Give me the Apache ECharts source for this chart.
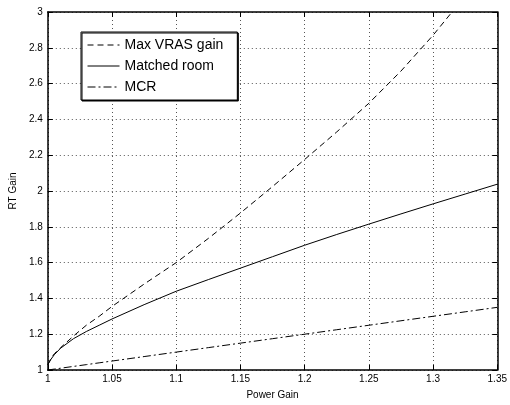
<!DOCTYPE html>
<html>
<head>
<meta charset="utf-8">
<script src="https://cdn.jsdelivr.net/npm/echarts@6/dist/echarts.min.js"></script>
<style>html,body{margin:0;padding:0;background:#fff}#c{width:510px;height:405px}</style>
</head>
<body>
<div id="c"></div>
<script>
var xValues = [1.0, 1.0025, 1.005, 1.01, 1.02, 1.03, 1.04, 1.05, 1.075, 1.1, 1.125, 1.15, 1.175, 1.2, 1.225, 1.25, 1.275, 1.3, 1.325, 1.35];
var maxVras = [1.03, 1.065, 1.09, 1.125, 1.19, 1.25, 1.30, 1.355, 1.48, 1.60, 1.735, 1.877, 2.025, 2.176, 2.33, 2.49, 2.67, 2.87, 3.09, 3.33];
var matchedRoom = [1.03, 1.06, 1.085, 1.122, 1.175, 1.215, 1.25, 1.285, 1.365, 1.44, 1.505, 1.569, 1.633, 1.697, 1.757, 1.815, 1.872, 1.928, 1.983, 2.038];
var mcr = [1.0, 1.0025, 1.005, 1.01, 1.02, 1.03, 1.04, 1.05, 1.075, 1.1, 1.125, 1.15, 1.175, 1.2, 1.225, 1.25, 1.275, 1.3, 1.325, 1.35];
var seriesNames = ['Max VRAS gain', 'Matched room', 'MCR'];
var xTickLabels = ['1', '1.05', '1.1', '1.15', '1.2', '1.25', '1.3', '1.35'];
var yTickLabels = ['1', '1.2', '1.4', '1.6', '1.8', '2', '2.2', '2.4', '2.6', '2.8', '3'];
var xLabel = 'Power Gain';
var yLabel = 'RT Gain';

function pairs(ys) { return xValues.map(function (x, i) { return [x, ys[i]]; }); }

var font = 'Liberation Sans, Arial, Helvetica, sans-serif';
var gridLine = { show: true, lineStyle: { color: '#555', type: [1, 3], width: 1 } };
var axisLine = { show: true, onZero: false, lineStyle: { color: '#000', width: 1.5 } };
var tick = { show: true, inside: true, length: 5, lineStyle: { color: '#000', width: 1 } };

var chart = echarts.init(document.getElementById('c'), null, { renderer: 'canvas' });
chart.setOption({
  animation: false,
  backgroundColor: '#fff',
  grid: { left: 42, right: 7.5, top: 12, bottom: 29, containLabel: false },
  legend: {
    orient: 'vertical', left: 81, top: 32,
    data: seriesNames,
    itemWidth: 32, itemHeight: 14, itemGap: 7,
    padding: [6, 14, 6, 6],
    borderColor: '#000', borderWidth: 1,
    backgroundColor: '#fff',
    shadowColor: '#000', shadowBlur: 0, shadowOffsetX: 1, shadowOffsetY: 1,
    itemStyle: { opacity: 0 },
    lineStyle: { width: 1 },
    textStyle: { fontFamily: font, fontSize: 14, color: '#000' }
  },
  xAxis: [{
    type: 'value', min: 1, max: 1.35, interval: 0.05,
    name: xLabel, nameLocation: 'middle', nameGap: 20,
    nameTextStyle: { fontFamily: font, fontSize: 10, color: '#000' },
    axisLine: axisLine, axisTick: tick, splitLine: gridLine,
    axisLabel: { fontFamily: font, fontSize: 10, color: '#000', margin: 4,
      formatter: function (v) { var i = Math.round((v - 1) / 0.05); return xTickLabels[i] || ''; } }
  }, {
    type: 'value', min: 1, max: 1.35, interval: 0.05, position: 'top',
    axisLine: axisLine, axisTick: tick, splitLine: { show: false }, axisLabel: { show: false }
  }],
  yAxis: [{
    type: 'value', min: 1, max: 3, interval: 0.2,
    name: yLabel, nameLocation: 'middle', nameGap: 29,
    nameTextStyle: { fontFamily: font, fontSize: 10, color: '#000' },
    axisLine: axisLine, axisTick: tick, splitLine: gridLine,
    axisLabel: { fontFamily: font, fontSize: 10, color: '#000', margin: 5,
      formatter: function (v) { var i = Math.round((v - 1) / 0.2); return yTickLabels[i] || ''; } }
  }, {
    type: 'value', min: 1, max: 3, interval: 0.2, position: 'right',
    axisLine: axisLine, axisTick: tick, splitLine: { show: false }, axisLabel: { show: false }
  }],
  series: [{
    name: seriesNames[0], type: 'line', data: pairs(maxVras), symbol: 'none', clip: true,
    lineStyle: { color: '#000', width: 1, type: [6, 4] }, itemStyle: { color: '#000' }
  }, {
    name: seriesNames[1], type: 'line', data: pairs(matchedRoom), symbol: 'none', clip: true,
    lineStyle: { color: '#000', width: 1, type: 'solid' }, itemStyle: { color: '#000' }
  }, {
    name: seriesNames[2], type: 'line', data: pairs(mcr), symbol: 'none', clip: true,
    lineStyle: { color: '#000', width: 1, type: [8, 3, 2, 3] }, itemStyle: { color: '#000' }
  }]
});
</script>
</body>
</html>
